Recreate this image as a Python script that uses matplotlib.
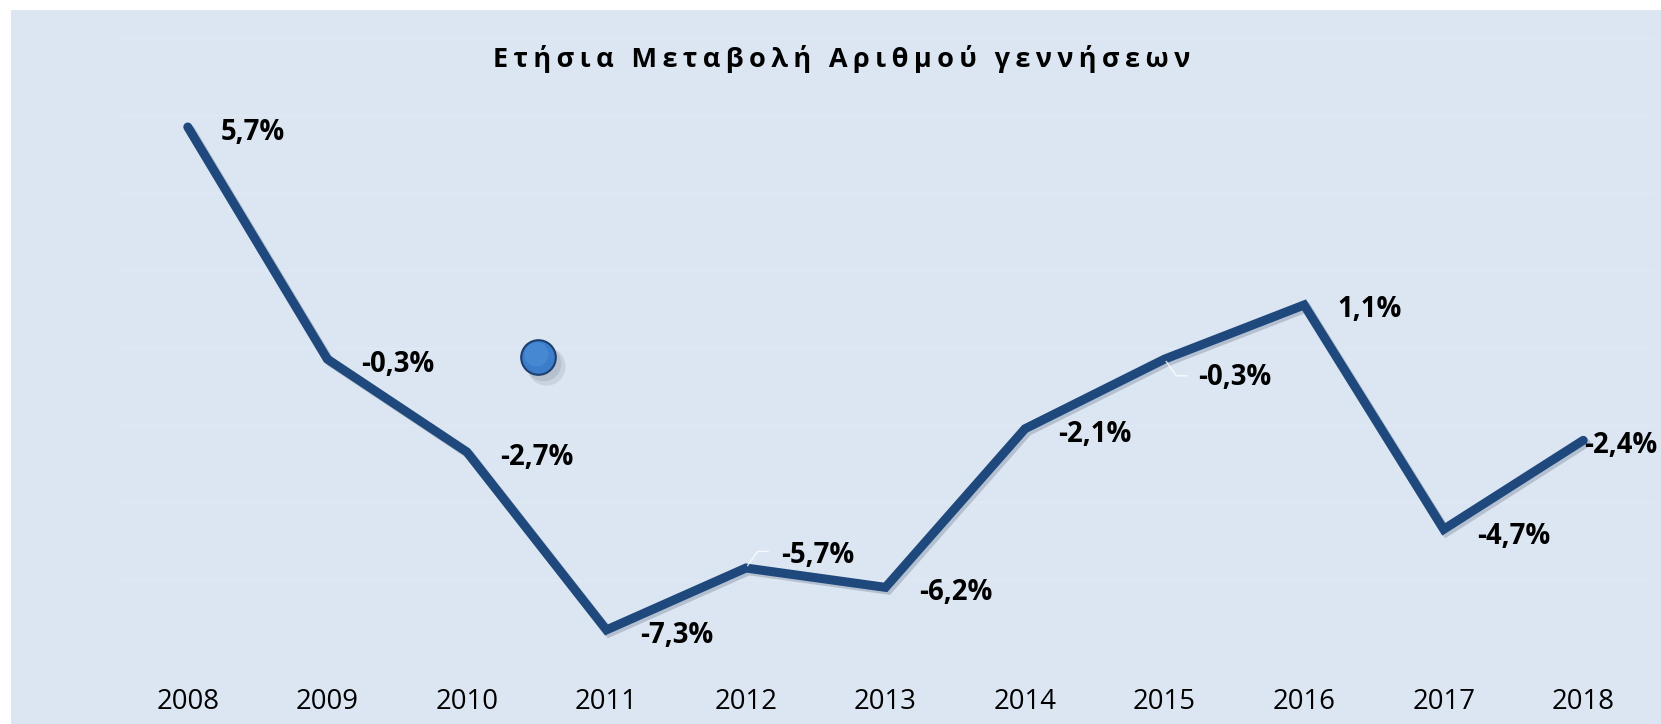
import matplotlib.pyplot as plt
import matplotlib.patheffects as pe
from matplotlib.patches import Rectangle

# data
years = ['2008', '2009', '2010', '2011', '2012', '2013', '2014', '2015', '2016', '2017', '2018']
change = [5.7, -0.3, -2.7, -7.3, -5.7, -6.2, -2.1, -0.3, 1.1, -4.7, -2.4]
title = 'Ετήσια Μεταβολή Αριθμού γεννήσεων'

# label offsets in points (layout only)
label_dx = [24, 24, 24, 24, 25, 24, 24, 24, 24, 24, 1]
label_dy = [-4, -4, -4, -4, 9, -4, -4, -13, -3, -5, -4]

plt.rcParams['font.family'] = ['Open Sans', 'DejaVu Sans']

bg = '#dce6f2'
line_col = '#1f497d'

fig = plt.figure(figsize=(16.61, 7.24), dpi=100)
fig.patch.set_facecolor('white')
fig.patches.append(Rectangle((11 / 1661, 0), 1, 714 / 724, transform=fig.transFigure,
                             facecolor=bg, edgecolor='none', zorder=-5))

ax = fig.add_axes([118 / 1661, 67 / 724, 1535 / 1661, 619 / 724])
ax.patch.set_visible(False)

x = list(range(len(years)))
ax.plot(x, change, color=line_col, lw=6.5, solid_capstyle='round', solid_joinstyle='miter',
        path_effects=[pe.SimpleLineShadow(offset=(2, -2), shadow_color='#6b7a8f', alpha=0.35),
                      pe.Normal()], zorder=3)

for i, v in enumerate(change):
    txt = f'{v:.1f}%'.replace('.', ',')
    ax.annotate(txt, (i, v), xytext=(label_dx[i], label_dy[i]), textcoords='offset points',
                ha='left', va='center', fontsize=19.8, fontweight='bold', color='black',
                annotation_clip=False, zorder=4)

# small leader lines for moved labels
ax.annotate('', (4, change[4]), xytext=(18, 12), textcoords='offset points',
            arrowprops=dict(arrowstyle='-', color='white', lw=1, alpha=0.8,
                            connectionstyle='angle,angleA=0,angleB=55,rad=0'))
ax.annotate('', (7, change[7]), xytext=(18, -12), textcoords='offset points',
            arrowprops=dict(arrowstyle='-', color='white', lw=1, alpha=0.8,
                            connectionstyle='angle,angleA=0,angleB=-55,rad=0'))

ax.set_xlim(-0.5, len(years) - 0.5)
ax.set_ylim(-8, 8)
ax.set_yticks(range(-8, 9, 2))
ax.set_yticklabels([])
ax.grid(axis='y', color='#e0e9f4', lw=1)
ax.set_axisbelow(True)
ax.set_xticks(x, years)
ax.tick_params(axis='x', length=0, pad=22, labelsize=19.8)
ax.tick_params(axis='y', length=0)
for s in ax.spines.values():
    s.set_visible(False)

# decorative sphere
sx, sy = 0.2736, 0.4847
ax.scatter([sx + 0.005], [sy - 0.014], s=760, color='#7f8a99', alpha=0.2, lw=0,
           transform=ax.transAxes, zorder=2)
ax.scatter([sx + 0.003], [sy - 0.009], s=660, color='#7f8a99', alpha=0.25, lw=0,
           transform=ax.transAxes, zorder=2)
ax.scatter([sx], [sy], s=620, color='#3b7dcb', edgecolors='#1d3f6e', linewidths=1.5,
           transform=ax.transAxes, zorder=3)
ax.scatter([sx - 0.001], [sy + 0.004], s=300, color='#5393dc', alpha=0.5, lw=0,
           transform=ax.transAxes, zorder=3)

fig.text(842 / 1661, 1 - 59 / 724, '\u2009'.join(title), ha='center', va='center',
         fontsize=19.5, fontweight='bold', color='black')

fig.savefig('out.png', dpi=100)
